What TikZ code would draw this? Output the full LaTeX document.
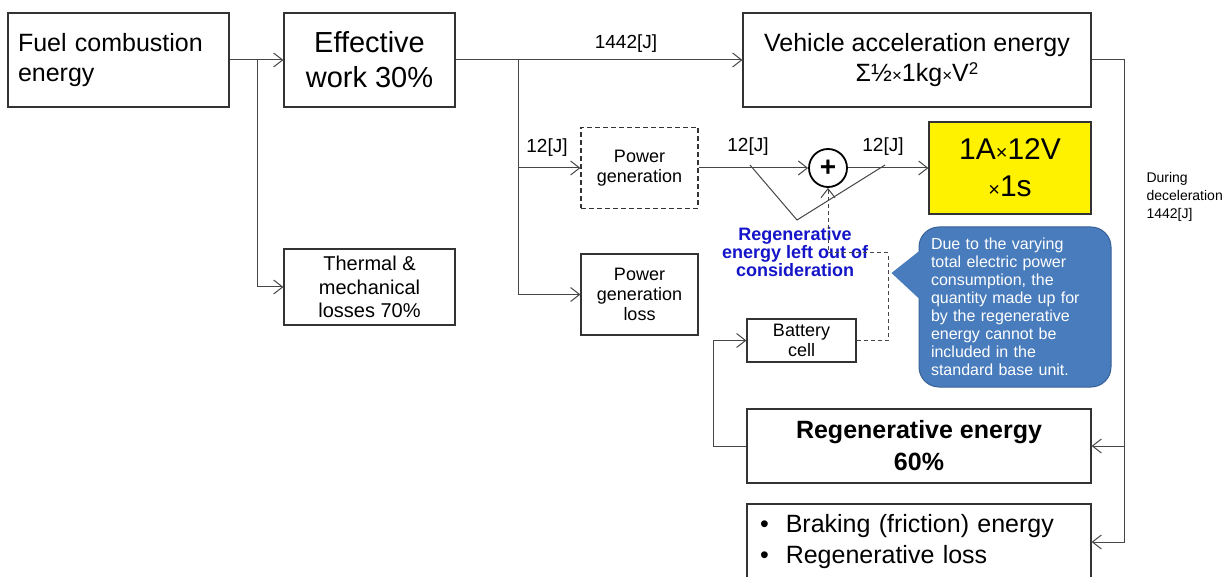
\documentclass[tikz,border=0pt]{standalone}
\usepackage{fontspec}
\setmainfont{Liberation Sans}
\usetikzlibrary{arrows.meta}
\definecolor{linegray}{RGB}{70,70,70}
\definecolor{notefill}{RGB}{72,124,188}
\definecolor{noteedge}{RGB}{56,98,150}
\definecolor{regenblue}{RGB}{20,20,200}
\newcommand{\setfs}[2]{\fontsize{#1}{#2}\selectfont}

\begin{document}
\begin{tikzpicture}[x=1pt, y=-1pt,
	box/.style={draw=black!80, line width=1.2pt, inner sep=0pt, align=center},
	dashbox/.style={box, dash pattern=on 5pt off 3pt},
	link/.style={draw=linegray, line width=1pt},
	flow/.style={link, -{Straight Barb[length=9pt,width=14pt]}},
	dashflow/.style={flow, dash pattern=on 4pt off 3pt},
	lbl/.style={font=\setfs{19}{19}},
	notebox/.style={fill=notefill, draw=noteedge, line width=1pt, rounded corners=20pt, inner sep=0pt,
		minimum width=192pt, minimum height=160pt, text width=168pt, align=left, text=white, font=\setfs{16}{18}}]
	\useasboundingbox (0,0) rectangle (1231,577);

	\node[box, minimum width=221pt, minimum height=94pt, text width=201pt, align=left, font=\setfs{25}{30}] (fuel) at (118.5,60) {Fuel combustion\\energy};
	\node[box, minimum width=171pt, minimum height=94pt, font=\setfs{29}{35}] (effwork) at (369.5,60) {Effective\\work 30\%};
	\node[box, minimum width=348pt, minimum height=94pt, font=\setfs{25}{30}] (accel) at (917,60) {Vehicle acceleration energy\\Σ½{\setfs{17}{17}×}1kg{\setfs{17}{17}×}V\raisebox{7pt}{\setfs{17}{17}2}};
	\node[box, minimum width=171pt, minimum height=76pt, font=\setfs{20}{23.5}] (thermal) at (369.5,287) {Thermal \&\\mechanical\\losses 70\%};
	\node[dashbox, minimum width=117pt, minimum height=81pt, font=\setfs{18}{20}] (powergen) at (639.5,168) {Power\\generation};
	\node[box, minimum width=117pt, minimum height=81pt, font=\setfs{18}{20}] (genloss) at (639.5,294.5) {Power\\generation\\loss};
	\node[circle, draw=black, line width=1.8pt, minimum size=38pt, inner sep=0pt, font=\setfs{28}{28}\bfseries] (plus) at (828,168) {+};
	\node[box, fill=yellow, minimum width=162pt, minimum height=92pt, font=\setfs{30}{37}] (unit) at (1010,168) {1A{\setfs{20}{20}×}12V\\{\setfs{20}{20}×}1s};
	\node[box, minimum width=109pt, minimum height=43pt, font=\setfs{18}{20}] (battery) at (801.5,340.5) {Battery\\cell};
	\node[box, minimum width=344pt, minimum height=74pt, font=\setfs{25}{32}\bfseries] (regen) at (919,446) {Regenerative energy\\60\%};
	\node[box, minimum width=344pt, minimum height=76pt, text width=318pt, align=left, font=\setfs{25}{31}] (braking) at (919,542) {•\hspace{17pt}Braking (friction) energy\\•\hspace{17pt}Regenerative loss};

	\node[notebox] (note) at (1015,307) {Due to the varying\\total electric power\\consumption, the\\quantity made up for\\by the regenerative\\energy cannot be\\included in the\\standard base unit.};
	\fill[notefill] (note.west) ++(2,-57) -- ++(-29,23) -- ++(29,27) -- cycle;

	\node[font=\setfs{18}{18}\bfseries, text=regenblue, align=center] (leftout) at (795,252) {Regenerative\\energy left out of\\consideration};
	\node[font=\setfs{14}{18}, align=left, anchor=west] (decel) at (1143,197) {During\\deceleration\\1442[J]};
	\node[lbl] (lbltop) at (626,44) {1442[J]};
	\node[lbl] (lblgen) at (547,148) {12[J]};
	\node[lbl] (lblin) at (748,147) {12[J]};
	\node[lbl] (lblout) at (883,147) {12[J]};

	\coordinate (split1) at (257,60);
	\coordinate (split2) at (518,60);
	\coordinate (turn) at (1124,60);
	\coordinate (loop) at (713,446);
	\coordinate (dashturn) at (888,253);

	\draw[flow] (fuel) -- (effwork);
	\draw[flow] (split1) |- (thermal);
	\draw[flow] (effwork) -- (accel);
	\draw[flow] (split2) |- (powergen);
	\draw[flow] (split2) |- (genloss);
	\draw[flow] (powergen) -- (plus);
	\draw[flow] (plus) -- (unit);
	\draw[link] (750,165) -- (797,220) -- (885,165);
	\draw[dashflow] (battery) -| (dashturn) -| (plus);
	\draw[flow] (accel.east) -- (turn) |- (braking);
	\draw[flow] (turn |- regen) -- (regen);
	\draw[flow] (regen.west) -- (loop) |- (battery);
\end{tikzpicture}
\end{document}
